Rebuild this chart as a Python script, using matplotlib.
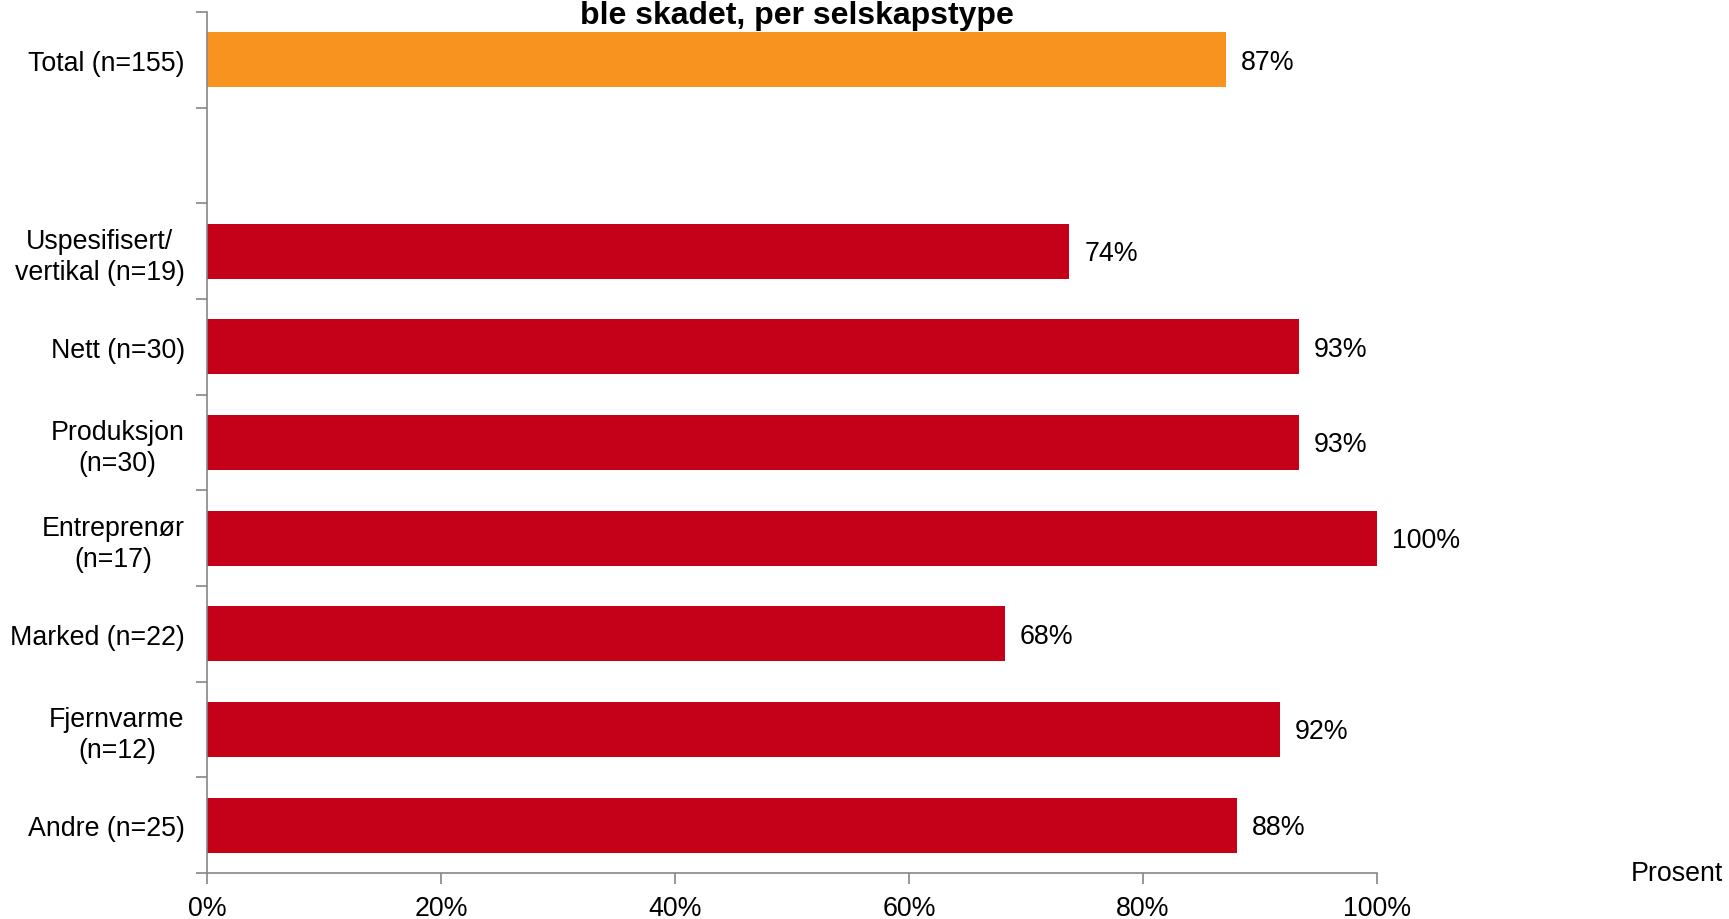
import matplotlib
matplotlib.use("Agg")
import matplotlib.pyplot as plt
import numpy as np

plt.rcParams['font.family'] = ['Liberation Sans', 'DejaVu Sans']

categories = ["Total (n=155)", "", "Uspesifisert/\nvertikal (n=19)", "Nett (n=30)",
              "Produksjon\n(n=30)", "Entreprenør\n(n=17)", "Marked (n=22)",
              "Fjernvarme\n(n=12)", "Andre (n=25)"]
values = [87.1, None, 73.7, 93.3, 93.3, 100.0, 68.2, 91.7, 88.0]
xticks = [0, 20, 40, 60, 80, 100]
xtick_labels = ["0%", "20%", "40%", "60%", "80%", "100%"]
title = "ble skadet, per selskapstype"
xlabel = "Prosent"

ORANGE = "#F7931E"
RED = "#C50019"
AXIS = "#868686"

fig = plt.figure(figsize=(17.29, 9.2), dpi=100)
ax = fig.add_axes([0.1197, 0.05, 0.7964 - 0.1197, 0.9859 - 0.05])

ypos = np.arange(len(categories))
for i, v in enumerate(values):
    if v is None:
        continue
    col = ORANGE if i == 0 else RED
    ax.barh(ypos[i], v, height=0.575, color=col, zorder=2)
    ax.text(v + 1.3, ypos[i] + 0.02, f"{round(v):d}%", va='center', ha='left', fontsize=19.3)

ax.set_xlim(0, 100)
ax.set_ylim(len(categories) - 0.5, -0.5)

ax.set_yticks(ypos)
ax.set_yticklabels(categories, fontsize=19.3, multialignment='center', linespacing=1.25)
ax.tick_params(axis='y', which='major', length=0, pad=16)
ax.set_yticks(np.arange(-0.5, len(categories)), minor=True)
ax.tick_params(axis='y', which='minor', length=8, width=1.2, color=AXIS, direction='out')

ax.set_xticks(xticks)
ax.set_xticklabels(xtick_labels, fontsize=19.3)
ax.tick_params(axis='x', which='major', length=8, width=1.2, color=AXIS, direction='out', pad=8)

for s in ['top', 'right']:
    ax.spines[s].set_visible(False)
for s in ['left', 'bottom']:
    ax.spines[s].set_color(AXIS)
    ax.spines[s].set_linewidth(1.2)

fig.text(797 / 1729, 1.0 - 1 / 920, title, ha='center', va='top', fontsize=23, fontweight='bold')
fig.text(1723 / 1729, 1.0 - 874 / 920, xlabel, ha='right', va='center', fontsize=19.3)

fig.savefig("out.png", dpi=100)
